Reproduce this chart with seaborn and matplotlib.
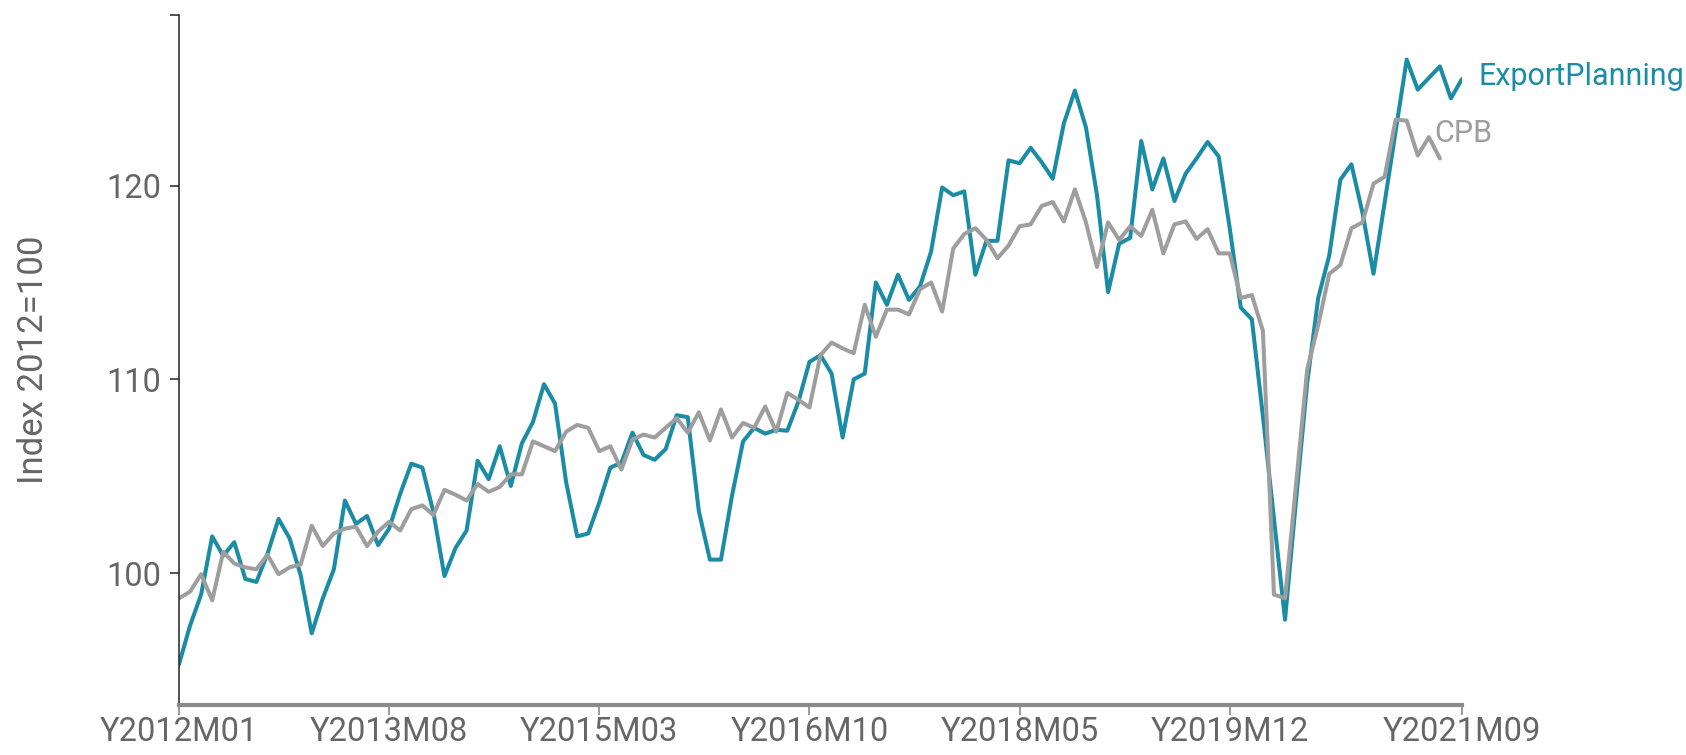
import matplotlib
matplotlib.use("Agg")
import matplotlib.pyplot as plt
import seaborn as sns
import numpy as np
import pandas as pd

# ---------------- data ----------------
years_months = [(y, m) for y in range(2012, 2022) for m in range(1, 13)][:117]
months = [f"Y{y}M{m:02d}" for y, m in years_months]

export_planning = [
    95.3, 97.3, 98.9, 101.9, 100.9, 101.6, 99.7, 99.55, 101.0, 102.8,
    101.8, 99.9, 96.9, 98.7, 100.2, 103.75, 102.55, 102.95, 101.45, 102.3,
    104.1, 105.65, 105.45, 103.15, 99.85, 101.3, 102.2, 105.8, 104.85, 106.55,
    104.5, 106.7, 107.8, 109.75, 108.75, 104.7, 101.9, 102.05, 103.65, 105.45,
    105.7, 107.25, 106.1, 105.85, 106.4, 108.15, 108.05, 103.2, 100.7, 100.7,
    104.0, 106.8, 107.5, 107.2, 107.4, 107.35, 108.85, 110.9, 111.25, 110.3,
    107.0, 110.0, 110.3, 115.0, 113.85, 115.4, 114.1, 114.8, 116.6, 119.9,
    119.5, 119.7, 115.4, 117.15, 117.15, 121.3, 121.15, 121.95, 121.2, 120.35,
    123.2, 124.9, 123.0, 119.5, 114.5, 117.0, 117.3, 122.3, 119.8, 121.4,
    119.2, 120.6, 121.4, 122.25, 121.5, 117.8, 113.7, 113.1, 108.1, 102.8,
    97.6, 103.8, 109.8, 114.2, 116.4, 120.3, 121.1, 118.6, 115.45, 119.1,
    122.8, 126.5, 124.95, 125.55, 126.15, 124.5, 125.5,
]

cpb = [
    98.7, 99.05, 99.95, 98.6, 101.1, 100.5, 100.3, 100.2, 100.95, 99.95,
    100.3, 100.45, 102.45, 101.4, 102.05, 102.3, 102.4, 101.4, 102.15, 102.65,
    102.2, 103.3, 103.5, 103.0, 104.3, 104.05, 103.75, 104.6, 104.2, 104.45,
    105.1, 105.1, 106.8, 106.55, 106.3, 107.3, 107.65, 107.5, 106.3, 106.55,
    105.35, 106.9, 107.15, 107.0, 107.5, 108.0, 107.25, 108.3, 106.85, 108.45,
    107.0, 107.75, 107.5, 108.6, 107.3, 109.3, 108.95, 108.55, 111.25, 111.9,
    111.6, 111.35, 113.85, 112.2, 113.6, 113.6, 113.35, 114.65, 115.0, 113.5,
    116.75, 117.5, 117.8, 117.2, 116.25, 116.9, 117.9, 118.0, 118.95, 119.15,
    118.15, 119.8, 118.1, 115.8, 118.1, 117.2, 117.9, 117.4, 118.75, 116.5,
    118.0, 118.15, 117.25, 117.75, 116.5, 116.5, 114.2, 114.35, 112.5, 98.9,
    98.7, 104.6, 110.5, 112.8, 115.45, 115.9, 117.8, 118.1, 120.1, 120.45,
    123.4, 123.35, 121.55, 122.5, 121.4,
]

tick_labels = ["Y2012M01", "Y2013M08", "Y2015M03", "Y2016M10",
               "Y2018M05", "Y2019M12", "Y2021M09"]
y_ticks = [100, 110, 120]
series_names = ["ExportPlanning", "CPB"]

# ---------------- style ----------------
TEAL = "#1a8ca5"
GRAY = "#9e9e9e"
TXT = "#666666"

sns.set_theme(style="white")
plt.rcParams["font.family"] = ["Roboto", "DejaVu Sans"]

W, H = 1686, 755
fig = plt.figure(figsize=(W / 100, H / 100), dpi=100)
ax_top, ax_bot = 15, 705
ax = fig.add_axes([179 / W, 1 - ax_bot / H, (1462 - 179) / W, (ax_bot - ax_top) / H])

df_ep = pd.DataFrame({"idx": np.arange(len(export_planning)), "value": export_planning})
df_cpb = pd.DataFrame({"idx": np.arange(len(cpb)), "value": cpb})

sns.lineplot(data=df_ep, x="idx", y="value", color=TEAL, linewidth=2.9, ax=ax)
sns.lineplot(data=df_cpb, x="idx", y="value", color=GRAY, linewidth=2.9, ax=ax)

ymin, ymax = 93.2, 128.8
ax.set_xlim(0, len(months) - 1)
ax.set_ylim(ymin, ymax)

tick_pos = [months.index(t) for t in tick_labels]
ax.set_xticks(tick_pos)
ax.set_xticklabels(tick_labels)
ax.set_yticks(y_ticks)
ax.set_yticklabels([str(v) for v in y_ticks])
ax.set_yticks([ymax], minor=True)

ax.set_xlabel("")
ax.set_ylabel("Index 2012=100", fontsize=25, color=TXT)
ax.yaxis.set_label_coords((50 - 179) / (1462 - 179), 0.5)

for s in ["top", "right"]:
    ax.spines[s].set_visible(False)
ax.spines["left"].set_color("#222222")
ax.spines["left"].set_linewidth(1.1)
ax.spines["bottom"].set_color("#8a8a8a")
ax.spines["bottom"].set_linewidth(3)

ax.tick_params(axis="y", which="both", direction="out", length=6.5, width=1.1,
               color="#222222", labelsize=23.5, labelcolor=TXT, pad=6, left=True)
ax.tick_params(axis="x", direction="out", length=7, width=1.2, color="#8a8a8a",
               labelsize=23.5, labelcolor=TXT, pad=1, bottom=True)

# end labels
ax.annotate(series_names[0], xy=(len(export_planning) - 1, export_planning[-1]),
            xytext=(12, 2), textcoords="offset points", color=TEAL,
            fontsize=22, va="center", ha="left", annotation_clip=False)
ax.annotate(series_names[1], xy=(len(cpb) - 1, cpb[-1]),
            xytext=(-4, 18), textcoords="offset points", color=GRAY,
            fontsize=22, va="center", ha="left", annotation_clip=False)

fig.savefig("out.png", dpi=100)
